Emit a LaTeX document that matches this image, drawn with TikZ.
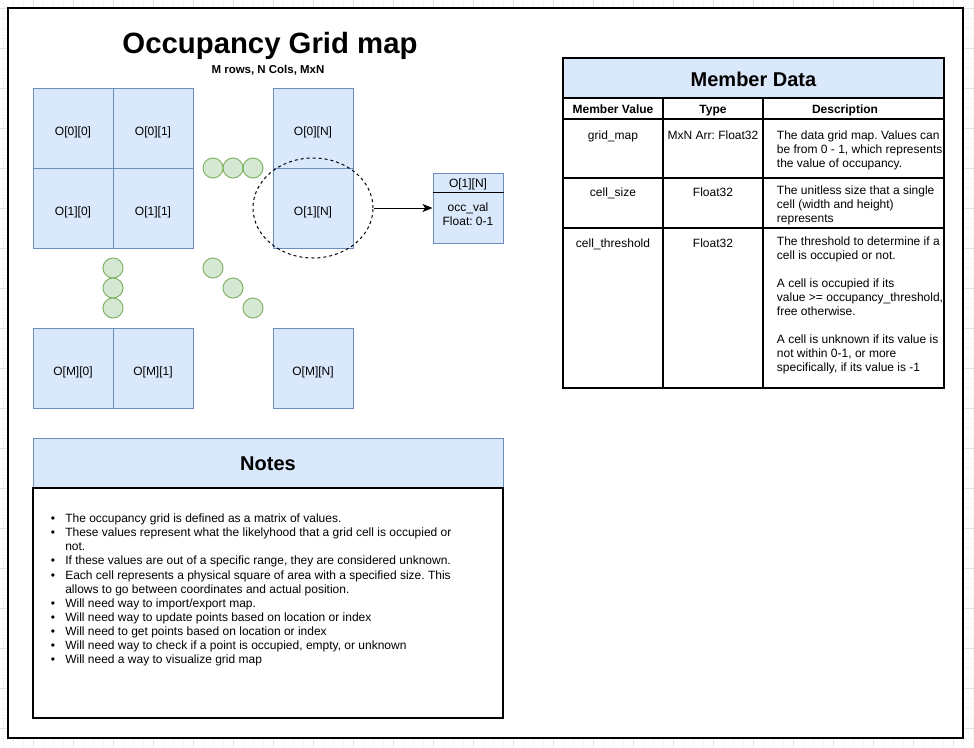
\documentclass[tikz,border=0pt]{standalone}
\usepackage{fontspec}
\setmainfont{Liberation Sans}
\usetikzlibrary{arrows.meta,shapes.geometric}
\definecolor{cellfill}{HTML}{DAE8FC}
\definecolor{cellline}{HTML}{6C8EBF}
\definecolor{dotfill}{HTML}{D5E8D4}
\definecolor{dotline}{HTML}{82B366}
\definecolor{gridmin}{HTML}{F4F4F4}
\definecolor{gridmaj}{HTML}{E2E2E2}
\frenchspacing
\begin{document}
\begin{tikzpicture}[x=0.75pt,y=-0.75pt,
  txt/.style={inner sep=0pt, font=\fontsize{9}{10.5}\selectfont, anchor=base},
  txtl/.style={txt, anchor=base west},
  hdr/.style={inner sep=0pt, font=\fontsize{9}{10.5}\selectfont\bfseries, anchor=base},
  big/.style={inner sep=0pt, font=\fontsize{15}{18}\selectfont\bfseries, anchor=base},
  cell/.style={draw=cellline, fill=cellfill, line width=0.75pt, minimum width=60pt, minimum height=60pt, inner sep=0pt, text height=10.5pt, text depth=0pt, font=\fontsize{9}{10.5}\selectfont},
  dot/.style={circle, draw=dotline, fill=dotfill, line width=0.75pt, minimum size=15pt, inner sep=0pt},
  tbl/.style={line width=0.8pt, draw=black},
  gminor/.style={draw=gridmin, line width=0.5pt},
  gmajor/.style={draw=gridmaj, line width=0.5pt}
]
\useasboundingbox (0,0) rectangle (974,747);
% background grid
\foreach \x in {3,13,...,973} \draw[gminor] (\x,0) -- (\x,747);
\foreach \y in {8,18,...,746} \draw[gminor] (0,\y) -- (974,\y);
\foreach \x in {33,73,...,973} \draw[gmajor] (\x,0) -- (\x,747);
\foreach \y in {8,48,...,746} \draw[gmajor] (0,\y) -- (974,\y);
% page frame
\draw[fill=white, line width=1.125pt] (8,8) rectangle (963,738);

% title
\node[inner sep=0pt, anchor=base, font=\fontsize{22}{26}\selectfont\bfseries] (title) at (270,53.5) {Occupancy Grid map};
\node[inner sep=0pt, anchor=base, font=\fontsize{8.6}{10}\selectfont\bfseries] (subtitle) at (268,73.5) {M rows, N Cols, MxN};

% grid cells
\node[cell] (c00) at (73,128) {O[0][0]};
\node[cell] (c01) at (153,128) {O[0][1]};
\node[cell] (c0N) at (313,128) {O[0][N]};
\node[cell] (c10) at (73,208) {O[1][0]};
\node[cell] (c11) at (153,208) {O[1][1]};
\node[cell] (c1N) at (313,208) {O[1][N]};
\node[cell] (cM0) at (73,368) {O[M][0]};
\node[cell] (cM1) at (153,368) {O[M][1]};
\node[cell] (cMN) at (313,368) {O[M][N]};

% ellipsis dots
\node[dot] (h1) at (213,168) {};
\node[dot] (h2) at (233,168) {};
\node[dot] (h3) at (253,168) {};
\node[dot] (v1) at (113,268) {};
\node[dot] (v2) at (113,288) {};
\node[dot] (v3) at (113,308) {};
\node[dot] (d1) at (213,268) {};
\node[dot] (d2) at (233,288) {};
\node[dot] (d3) at (253,308) {};

% focus ellipse
\node[ellipse, draw=black, line width=0.75pt, dash pattern=on 2.25pt off 2.25pt, minimum width=90pt, minimum height=75pt, inner sep=0pt] (focus) at (313,208) {};

% cell detail box
\node[draw=cellline, fill=cellfill, line width=0.75pt, minimum width=52.5pt, minimum height=52.5pt, inner sep=0pt] (cellbox) at (468,208) {};
\draw[line width=0.75pt] ([yshift=-15pt]cellbox.north west) -- ([yshift=-15pt]cellbox.north east);
\node[txt] (boxhead) at (468,187) {O[1][N]};
\node[txt] (boxv1) at (468,211) {occ\_val};
\node[txt] (boxv2) at (468,225) {Float: 0-1};
\draw[line width=0.75pt, -{Stealth[length=7.5pt,width=6pt,inset=2pt]}] (focus.east) -- (cellbox.west);

% member data table
\draw[tbl, fill=cellfill] (563,58) rectangle (944,98);
\node[big] (mdtitle) at (753.5,86) {Member Data};
\draw[tbl] (563,98) rectangle (944,388);
\draw[tbl] (563,119) -- (944,119);
\draw[tbl] (563,178) -- (944,178);
\draw[tbl] (563,228) -- (944,228);
\draw[tbl] (663,98) -- (663,388);
\draw[tbl] (763,98) -- (763,388);
\node[hdr] (hmv) at (613,113.5) {Member Value};
\node[hdr] (hty) at (713,113.5) {Type};
\node[hdr] (hde) at (845,113.5) {Description};

\node[txt] (r1a) at (613,139) {grid\_map};
\node[txt] (r1b) at (713,139) {MxN Arr: Float32};
\node[txtl] (r1c1) at (776.7,139) {The data grid map. Values can};
\node[txtl] (r1c2) at (776.7,153) {be from 0 - 1, which represents};
\node[txtl] (r1c3) at (776.7,167) {the value of occupancy.};

\node[txt] (r2a) at (613,196) {cell\_size};
\node[txt] (r2b) at (713,196) {Float32};
\node[txtl] (r2c1) at (776.7,194) {The unitless size that a single};
\node[txtl] (r2c2) at (776.7,208) {cell (width and height)};
\node[txtl] (r2c3) at (776.7,222) {represents};

\node[txt] (r3a) at (613,247) {cell\_threshold};
\node[txt] (r3b) at (713,247) {Float32};
\node[txtl] (r3c1) at (776.7,245) {The threshold to determine if a};
\node[txtl] (r3c2) at (776.7,259) {cell is occupied or not.};
\node[txtl] (r3c3) at (776.7,287) {A cell is occupied if its};
\node[txtl] (r3c4) at (776.7,301) {value >= occupancy\_threshold,};
\node[txtl] (r3c5) at (776.7,315) {free otherwise.};
\node[txtl] (r3c6) at (776.7,343) {A cell is unknown if its value is};
\node[txtl] (r3c7) at (776.7,357) {not within 0-1, or more};
\node[txtl] (r3c8) at (776.7,371) {specifically, if its value is -1};

% notes
\draw[draw=cellline, fill=cellfill, line width=0.75pt] (33,438) rectangle (503,488);
\node[big] (notestitle) at (268,470.5) {Notes};
\draw[tbl, fill=white] (33,488) rectangle (503,718);

\node[txt] (b0) at (53,522.7) {\textbullet};
\node[txtl] (n0) at (65,522.7) {The occupancy grid is defined as a matrix of values.};
\node[txt] (b1) at (53,536.8) {\textbullet};
\node[txtl] (n1) at (65,536.8) {These values represent what the likelyhood that a grid cell is occupied or};
\node[txtl] (n2) at (65,550.8) {not.};
\node[txt] (b3) at (53,564.9) {\textbullet};
\node[txtl] (n3) at (65,564.9) {If these values are out of a specific range, they are considered unknown.};
\node[txt] (b4) at (53,579.0) {\textbullet};
\node[txtl] (n4) at (65,579.0) {Each cell represents a physical square of area with a specified size. This};
\node[txtl] (n5) at (65,593.1) {allows to go between coordinates and actual position.};
\node[txt] (b6) at (53,607.1) {\textbullet};
\node[txtl] (n6) at (65,607.1) {Will need way to import/export map.};
\node[txt] (b7) at (53,621.2) {\textbullet};
\node[txtl] (n7) at (65,621.2) {Will need way to update points based on location or index};
\node[txt] (b8) at (53,635.3) {\textbullet};
\node[txtl] (n8) at (65,635.3) {Will need to get points based on location or index};
\node[txt] (b9) at (53,649.3) {\textbullet};
\node[txtl] (n9) at (65,649.3) {Will need way to check if a point is occupied, empty, or unknown};
\node[txt] (b10) at (53,663.4) {\textbullet};
\node[txtl] (n10) at (65,663.4) {Will need a way to visualize grid map};
\end{tikzpicture}
\end{document}
